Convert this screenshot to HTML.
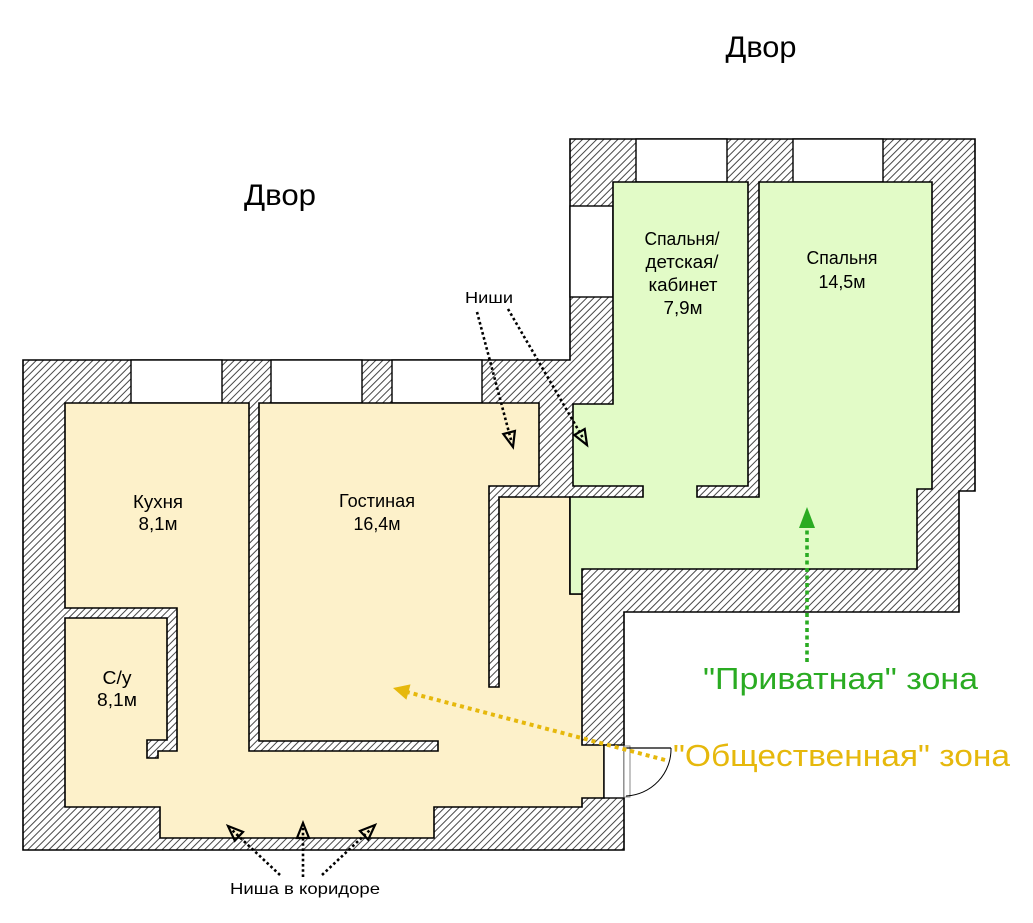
<!DOCTYPE html>
<html>
<head>
<meta charset="utf-8">
<style>
  html, body { margin: 0; padding: 0; background: #ffffff; }
  svg { display: block; }
  text { font-family: "Liberation Sans", "DejaVu Sans", sans-serif; }
</style>
</head>
<body>
<svg width="1033" height="923" viewBox="0 0 1033 923" xmlns="http://www.w3.org/2000/svg">
  <defs>
    <pattern id="hatch" patternUnits="userSpaceOnUse" width="5" height="10" patternTransform="rotate(45)">
      <rect width="5" height="10" fill="#ffffff"/>
      <line x1="0.5" y1="0" x2="0.5" y2="10" stroke="#333" stroke-width="0.9"/>
    </pattern>
  </defs>

  <rect width="1033" height="923" fill="#ffffff"/>

  <!-- Outer building (walls hatched) -->
  <polygon points="23,360 570,360 570,139 975,139 975,491 959,491 959,612 624,612 624,850 23,850"
           fill="url(#hatch)" stroke="#000" stroke-width="1.6"/>

  <!-- Windows -->
  <g fill="#ffffff" stroke="#000" stroke-width="1.4">
    <rect x="131" y="360" width="91" height="43"/>
    <rect x="271" y="360" width="91" height="43"/>
    <rect x="392" y="360" width="90" height="43"/>
    <rect x="636" y="139" width="91" height="43"/>
    <rect x="793" y="139" width="90" height="43"/>
    <rect x="570" y="206" width="43" height="91"/>
  </g>

  <!-- Public zone (beige) -->
  <polygon points="65,403 249,403 249,751 438,751 438,741 259,741 259,403 539,403 539,486 489,486 489,687 499,687 499,497 570,497 570,594 582,594 582,745 604,745 604,798 582,798 582,807 434,807 434,838 160,838 160,807 65,807 65,618 167,618 167,740 147,740 147,758 158,758 158,751 177,751 177,608 65,608"
           fill="#fdf1ca" stroke="#000" stroke-width="1.6" stroke-linejoin="miter"/>

  <!-- Private zone (green) -->
  <polygon points="613,182 748,182 748,486 697,486 697,497 759,497 759,182 932,182 932,489 917,489 917,569 582,569 582,594 570,594 570,497 643,497 643,486 573,486 573,404 613,404"
           fill="#e2fbc7" stroke="#000" stroke-width="1.6"/>

  <!-- Door -->
  <rect x="604" y="745" width="20" height="53" fill="#ffffff" stroke="#000" stroke-width="1.4"/>
  <rect x="624" y="746" width="6" height="51" fill="#ffffff" stroke="#8a8a8a" stroke-width="1"/>
  <line x1="624" y1="748" x2="671" y2="748" stroke="#000" stroke-width="1.2"/>
  <path d="M671,748 A47,47 0 0 1 626,796" fill="none" stroke="#000" stroke-width="1"/>

  <!-- Room labels -->
  <g font-size="18.5" fill="#000" text-anchor="middle">
    <text x="682" y="245" textLength="75" lengthAdjust="spacingAndGlyphs">Спальня/</text>
    <text x="682" y="268" textLength="73" lengthAdjust="spacingAndGlyphs">детская/</text>
    <text x="683" y="291" textLength="69" lengthAdjust="spacingAndGlyphs">кабинет</text>
    <text x="683" y="314" textLength="39" lengthAdjust="spacingAndGlyphs">7,9м</text>

    <text x="842" y="264" textLength="71" lengthAdjust="spacingAndGlyphs">Спальня</text>
    <text x="842" y="288" textLength="47" lengthAdjust="spacingAndGlyphs">14,5м</text>

    <text x="158" y="508" textLength="50" lengthAdjust="spacingAndGlyphs">Кухня</text>
    <text x="158" y="530" textLength="39" lengthAdjust="spacingAndGlyphs">8,1м</text>

    <text x="377" y="507" textLength="76" lengthAdjust="spacingAndGlyphs">Гостиная</text>
    <text x="377" y="530" textLength="47" lengthAdjust="spacingAndGlyphs">16,4м</text>

    <text x="117" y="684" textLength="29" lengthAdjust="spacingAndGlyphs">С/у</text>
    <text x="117" y="706" textLength="40" lengthAdjust="spacingAndGlyphs">8,1м</text>
  </g>

  <!-- Yard labels -->
  <text x="761" y="57" font-size="30" text-anchor="middle" textLength="71" lengthAdjust="spacingAndGlyphs">Двор</text>
  <text x="280" y="205" font-size="30" text-anchor="middle" textLength="72" lengthAdjust="spacingAndGlyphs">Двор</text>

  <!-- Niche labels -->
  <text x="489" y="303" font-size="16" text-anchor="middle" textLength="48" lengthAdjust="spacingAndGlyphs">Ниши</text>
  <text x="305" y="894" font-size="16" text-anchor="middle" textLength="150" lengthAdjust="spacingAndGlyphs">Ниша в коридоре</text>

  <!-- Black dotted arrows -->
  <g stroke="#000" stroke-width="2.6" stroke-dasharray="2.6 2.6" fill="none">
    <line x1="477" y1="312" x2="511" y2="440"/>
    <line x1="508" y1="309" x2="583" y2="438"/>
    <line x1="280" y1="875" x2="232" y2="830"/>
    <line x1="303" y1="877" x2="303" y2="828"/>
    <line x1="322" y1="875" x2="371" y2="829"/>
  </g>
  <g stroke="#000" stroke-width="2.2" fill="none" stroke-linejoin="miter">
    <polygon points="503.3,434 513,447 514.9,431"/>
    <polygon points="574.3,435 587,445 584.7,429"/>
    <polygon points="243,831.9 228,826 234.8,840.7"/>
    <polygon points="297,838 303,823 309,838"/>
    <polygon points="368.2,839.7 375,825 360,830.9"/>
  </g>

  <!-- Green arrow -->
  <line x1="807" y1="662" x2="807" y2="528" stroke="#2aab22" stroke-width="3.6" stroke-dasharray="4 3.5"/>
  <polygon points="807,507 799,528 815,528" fill="#2aab22"/>

  <!-- Yellow arrow -->
  <line x1="665" y1="760" x2="407" y2="692" stroke="#e6b80c" stroke-width="4" stroke-dasharray="4 4"/>
  <polygon points="393,688 406.4,699.8 410.5,684.4" fill="#e6b80c"/>

  <!-- Zone labels -->
  <text x="703" y="689" font-size="31" fill="#2aab22" textLength="275" lengthAdjust="spacingAndGlyphs">"Приватная" зона</text>
  <text x="673" y="766" font-size="31" fill="#e6b80c" textLength="337" lengthAdjust="spacingAndGlyphs">"Общественная" зона</text>
</svg>
</body>
</html>
